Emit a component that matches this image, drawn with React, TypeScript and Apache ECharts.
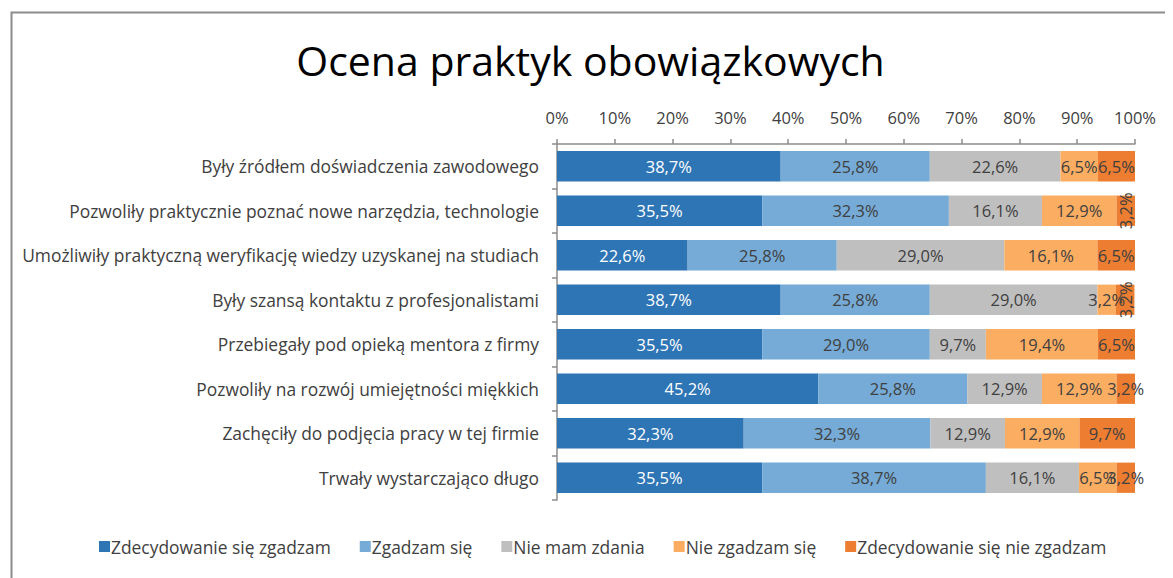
import React, { useEffect, useRef } from "react";
import * as echarts from "echarts";

const categories = [
  "Były źródłem doświadczenia zawodowego",
  "Pozwoliły praktycznie poznać nowe narzędzia, technologie",
  "Umożliwiły praktyczną weryfikację wiedzy uzyskanej na studiach",
  "Były szansą kontaktu z profesjonalistami",
  "Przebiegały pod opieką mentora z firmy",
  "Pozwoliły na rozwój umiejętności miękkich",
  "Zachęciły do podjęcia pracy w tej firmie",
  "Trwały wystarczająco długo",
];

const seriesNames = [
  "Zdecydowanie się zgadzam",
  "Zgadzam się",
  "Nie mam zdania",
  "Nie zgadzam się",
  "Zdecydowanie się nie zgadzam",
];

const stronglyAgree = [38.7, 35.5, 22.6, 38.7, 35.5, 45.2, 32.3, 35.5];
const agree = [25.8, 32.3, 25.8, 25.8, 29.0, 25.8, 32.3, 38.7];
const noOpinion = [22.6, 16.1, 29.0, 29.0, 9.7, 12.9, 12.9, 16.1];
const disagree = [6.5, 12.9, 16.1, 3.2, 19.4, 12.9, 12.9, 6.5];
const stronglyDisagree = [6.5, 3.2, 6.5, 3.2, 6.5, 3.2, 9.7, 3.2];

const xTicks = [0, 10, 20, 30, 40, 50, 60, 70, 80, 90, 100];

const colors = ["#2E75B6", "#75ABD6", "#BFBFBF", "#FBAD62", "#ED7D31"];
const labelColors = ["#FFFFFF", "#404040", "#404040", "#404040", "#404040"];
// rows whose last-series label is drawn rotated (as in the source)
const rotatedLastLabelRows = [1, 3];

const FONT = "'Open Sans', 'Noto Sans', sans-serif";

export default function App() {
  const ref = useRef<HTMLDivElement>(null);
  useEffect(() => {
    if (!ref.current) return;
    const chart = echarts.init(ref.current, null, { renderer: "svg" });
    const allData = [stronglyAgree, agree, noOpinion, disagree, stronglyDisagree];
    const fmt = (v: number) => v.toFixed(1).replace(".", ",") + "%";
    chart.setOption({
      animation: false,
      backgroundColor: "#FFFFFF",
      textStyle: { fontFamily: FONT },
      title: {
        text: "Ocena praktyk obowiązkowych",
        left: "center",
        top: 26,
        textStyle: { fontFamily: FONT, fontSize: 41, fontWeight: 400, color: "#000000" },
      },
      graphic: [
        {
          type: "rect",
          left: 1,
          top: 2,
          shape: { width: 3000, height: 3000 },
          style: { fill: "none", stroke: "#8C8C8C", lineWidth: 2 },
          silent: true,
        },
      ],
      legend: {
        bottom: 18,
        left: 86,
        itemWidth: 11,
        itemHeight: 11,
        itemGap: 29,
        icon: "rect",
        textStyle: { fontFamily: FONT, fontSize: 17.4, color: "#404040", padding: [0, 0, 0, -4] },
        data: seriesNames,
      },
      grid: { left: 549, top: 136, width: 578, height: 356, containLabel: false },
      xAxis: {
        type: "value",
        position: "top",
        min: 0,
        max: 100,
        interval: 10,
        axisLine: { show: true, lineStyle: { color: "#8C8C8C", width: 1.5 } },
        axisTick: { show: true, length: 5, lineStyle: { color: "#8C8C8C", width: 1.5 } },
        splitLine: { show: false },
        axisLabel: {
          fontFamily: FONT,
          fontSize: 16.5,
          color: "#404040",
          margin: 18,
          formatter: (v: number) => (xTicks.includes(v) ? v + "%" : ""),
        },
      },
      yAxis: {
        type: "category",
        inverse: true,
        data: categories,
        axisLine: { show: true, lineStyle: { color: "#8C8C8C", width: 1.5 } },
        axisTick: { show: true, length: 5, lineStyle: { color: "#8C8C8C", width: 1.5 } },
        axisLabel: { fontFamily: FONT, fontSize: 17.4, color: "#404040", margin: 18 },
      },
      series: allData.map((d, si) => ({
        name: seriesNames[si],
        type: "bar",
        stack: "total",
        barCategoryGap: "32%",
        itemStyle: { color: colors[si] },
        data: d.map((v, i) => {
          const item: any = { value: v };
          if (si === 4 && rotatedLastLabelRows.includes(i)) {
            item.label = { rotate: 90 };
          }
          return item;
        }),
        label: {
          show: true,
          position: "inside",
          fontFamily: FONT,
          fontSize: 16.5,
          color: labelColors[si],
          formatter: (p: any) => fmt(p.value),
        },
      })),
    });
    return () => chart.dispose();
  }, []);
  return <div ref={ref} style={{ width: 1165, height: 570 }} />;
}
